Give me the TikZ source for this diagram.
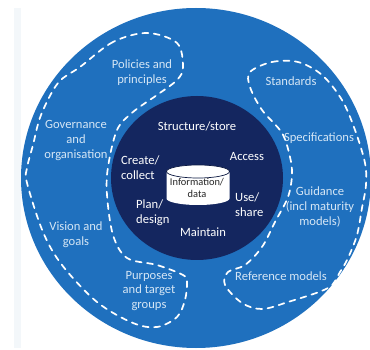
\documentclass[tikz,border=0pt]{standalone}
\usepackage{fontspec}
\setmainfont{Carlito}
\definecolor{ringblue}{HTML}{1F70BE}
\definecolor{navy}{HTML}{14265F}
\definecolor{labelblue}{HTML}{D5E6F5}
\definecolor{palestrip}{HTML}{F3F7FA}
\tikzset{
  outerlabel/.style={text=labelblue,align=center,font=\fontsize{12.6}{14.8}\selectfont,inner sep=0pt},
  innerlabel/.style={text=white,align=center,font=\fontsize{12.6}{14.8}\selectfont,inner sep=0pt},
  dashloop/.style={draw=white,line width=1.7pt,dash pattern=on 6pt off 5.5pt,line cap=round}
}
\begin{document}
\begin{tikzpicture}[x=1pt,y=-1pt]
\useasboundingbox (0,0) rectangle (370,350);
\fill[white] (0,0) rectangle (370,350);
\fill[palestrip] (14,8) rectangle (21,348);
\begin{scope}
\clip (0,0) rectangle (370,350);
\fill[ringblue] (196,178) ellipse [x radius=175,y radius=170];
\end{scope}
\fill[navy] (197,178) ellipse [x radius=86,y radius=82];
% dashed loops
\draw[dashloop] plot[smooth cycle,tension=0.55] coordinates {(147,33) (113,42) (80,67) (58,83) (41,115) (33,145) (27,168) (27,183) (43,232) (62,265) (97,302) (133,323) (157,327) (177,317) (185,300) (187,282) (183,275) (157,265) (127,258) (113,235) (107,195) (108,167) (117,130) (133,112) (157,95) (177,80) (183,67) (177,43)};
\draw[dashloop] plot[smooth cycle,tension=0.55] coordinates {(250,72) (272,62) (298,62) (322,75) (342,100) (355,130) (365,163) (366,185) (362,208) (357,235) (348,258) (340,272) (328,288) (288,302) (262,309) (242,303) (225,285) (228,272) (245,265) (262,247) (275,222) (288,197) (292,175) (290,157) (282,133) (262,110) (250,87)};
% cylinder
\fill[white] (166.5,171.5) -- (166.5,198.5) arc[start angle=180,end angle=0,x radius=31.5,y radius=6.5] -- (229.5,171.5) arc[start angle=0,end angle=-180,x radius=31.5,y radius=6.5] -- cycle;
\draw[navy!70!black,line width=0.7pt] (198,171.5) ellipse [x radius=31.5,y radius=6.5];
\node[text=black!85,align=center,font=\fontsize{10.4}{12}\selectfont,inner sep=0pt] (data) at (197,188) {Information/\\data};
% inner labels
\node[innerlabel] (structure) at (197,126) {Structure/store};
\node[innerlabel] (access) at (247,157) {Access};
\node[innerlabel,align=left,anchor=west] (create) at (121,168) {Create/\\collect};
\node[innerlabel,align=left,anchor=west] (plan) at (136,212.5) {Plan/\\design};
\node[innerlabel] (maintain) at (203,232) {Maintain};
\node[innerlabel,align=left,anchor=west] (use) at (235,204.5) {Use/\\share};
% outer labels
\node[outerlabel] (policies) at (142,73) {Policies and\\principles};
\node[outerlabel] (gov) at (76,140.5) {Governance\\and\\organisation};
\node[outerlabel] (vision) at (76,234.5) {Vision and\\goals};
\node[outerlabel] (purposes) at (149,291) {Purposes\\and target\\groups};
\node[outerlabel] (standards) at (291,81) {Standards};
\node[outerlabel] (spec) at (319,138) {Specifications};
\node[outerlabel] (guidance) at (320,207) {Guidance\\(incl maturity\\models)};
\node[outerlabel] (reference) at (281,276) {Reference models};
\end{tikzpicture}
\end{document}
